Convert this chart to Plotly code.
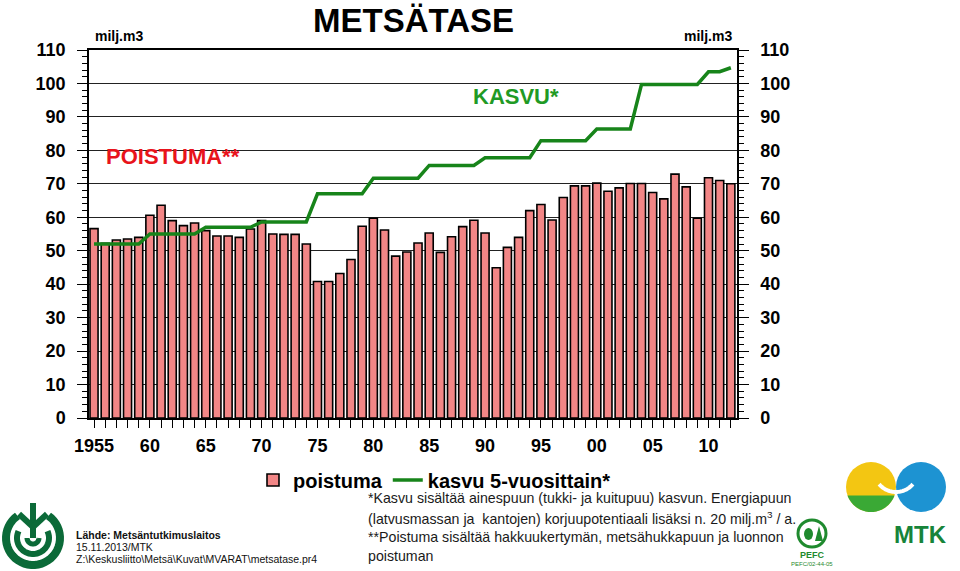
import numpy as np
import plotly.graph_objects as go

W, H = 960, 571

years = list(range(1955, 2013))
poistuma = [56.6, 52.2, 53.2, 53.5, 54.0, 60.6, 63.6, 59.0, 57.5, 58.3,
            56.0, 54.4, 54.4, 54.0, 56.5, 59.0, 55.0, 54.9, 54.9, 52.0,
            40.8, 40.8, 43.2, 47.4, 57.3, 59.7, 56.2, 48.4, 49.6, 52.3,
            55.3, 49.5, 54.2, 57.2, 59.1, 55.3, 44.9, 51.0, 54.0, 62.0,
            63.8, 59.2, 65.9, 69.4, 69.4, 70.2, 67.8, 68.8, 70.1, 70.1,
            67.4, 65.5, 72.9, 69.1, 59.7, 71.8, 71.0, 70.0]
kasvu = [52.0, 52.0, 52.0, 52.0, 52.0, 55.0, 55.0, 55.0, 55.0, 55.0,
         57.0, 57.0, 57.0, 57.0, 57.0, 58.6, 58.6, 58.6, 58.6, 58.6,
         67.0, 67.0, 67.0, 67.0, 67.0, 71.7, 71.7, 71.7, 71.7, 71.7,
         75.5, 75.5, 75.5, 75.5, 75.5, 77.8, 77.8, 77.8, 77.8, 77.8,
         82.9, 82.9, 82.9, 82.9, 82.9, 86.4, 86.4, 86.4, 86.4, 99.7,
         99.7, 99.7, 99.7, 99.7, 99.7, 103.5, 103.5, 104.7]
tick_years = [1955, 1960, 1965, 1970, 1975, 1980, 1985, 1990, 1995, 2000, 2005, 2010]
tick_text = ["1955", "60", "65", "70", "75", "80", "85", "90", "95", "00", "05", "10"]

FONT = "Liberation Sans, Arial, sans-serif"
NARROW = "Liberation Sans Narrow, Arial Narrow, Liberation Sans, Arial, sans-serif"
GREEN_LINE = "#17841a"
GREEN_TXT = "#1f9a25"
RED_TXT = "#e8131b"
LOGO_GREEN = "#0b6a38"


def px(x):
    return x / W


def py(y):
    return 1 - y / H


def ann(x, y, text, size, color="black", bold=False, anchor="left", family=FONT):
    return dict(x=px(x), y=py(y), xref="paper", yref="paper", text=text,
                showarrow=False, xanchor=anchor, yanchor="middle",
                font=dict(size=size, color=color, family=family,
                          weight="bold" if bold else "normal"))


def arc_path(cx, cy, r, a0, a1):
    t = np.radians(np.linspace(a0, a1, 40))
    pts = [(px(cx + r * np.cos(a)), py(cy + r * np.sin(a))) for a in t]
    return "M " + " L ".join(f"{x:.5f},{y:.5f}" for x, y in pts)


def seg(x0, y0, x1, y1, color, width):
    return dict(type="line", xref="paper", yref="paper", x0=px(x0), y0=py(y0),
                x1=px(x1), y1=py(y1), line=dict(color=color, width=width))


fig = go.Figure()
fig.add_trace(go.Bar(
    x=years, y=poistuma, name="poistuma", width=0.72,
    marker=dict(color="#f28686", line=dict(color="black", width=1.6)),
))
fig.add_trace(go.Scatter(
    x=years, y=kasvu, name="kasvu 5-vuosittain*", mode="lines", yaxis="y2",
    line=dict(color=GREEN_LINE, width=3.5),
))

dom_x = [px(89), px(737)]
dom_y = [py(418), py(50)]
yax = dict(
    range=[0, 110], domain=dom_y, tickvals=list(range(0, 111, 10)),
    ticks="outside", ticklen=10, tickcolor="black", showline=True,
    linecolor="black", linewidth=1.5, showgrid=True, gridcolor="#222",
    gridwidth=1, zeroline=False, automargin=False, ticklabelstandoff=8,
    tickfont=dict(size=18, family=FONT, weight="bold", color="black"),
    minor=dict(dtick=2, ticks="outside", ticklen=5, tickcolor="black"),
)
fig.update_layout(
    width=W, height=H, template="none",
    margin=dict(l=0, r=0, t=0, b=0),
    paper_bgcolor="white", plot_bgcolor="white",
    xaxis=dict(
        range=[1954.55, 2012.55], domain=dom_x, tickvals=tick_years,
        ticktext=tick_text, ticks="outside", ticklen=8, tickcolor="black",
        showline=True, linecolor="black", linewidth=1.5, mirror=True,
        showgrid=False, zeroline=False, automargin=False, ticklabelstandoff=3,
        tickfont=dict(size=18, family=FONT, weight="bold", color="black"),
        minor=dict(dtick=1, tick0=1955, ticks="outside", ticklen=8, tickcolor="black"),
    ),
    yaxis=yax,
    yaxis2=dict(yax, overlaying="y", side="right", anchor="x", showgrid=False),
    showlegend=True,
    legend=dict(
        orientation="h", x=px(253), y=py(480), xanchor="left", yanchor="middle",
        font=dict(size=20, family=FONT, weight="bold", color="black"),
        bgcolor="rgba(0,0,0,0)", itemwidth=30, tracegroupgap=0,
    ),
)

annotations = [
    ann(413, 20, "METSÄTASE", 33, bold=True, anchor="center", family=NARROW),
    ann(119, 36, "milj.m3", 14, bold=True, anchor="center", family=NARROW),
    ann(708, 36, "milj.m3", 14, bold=True, anchor="center", family=NARROW),
    ann(104, 157, "POISTUMA**", 22, RED_TXT, bold=True),
    ann(471, 96, "KASVU*", 22, GREEN_TXT, bold=True),
    ann(366, 498, "*Kasvu sisältää ainespuun (tukki- ja kuitupuu) kasvun. Energiapuun", 14.2, "#1a1a1a"),
    ann(366, 518, "(latvusmassan ja  kantojen) korjuupotentiaali lisäksi n. 20 milj.m<sup>3</sup> / a.", 14.2, "#1a1a1a"),
    ann(366, 537, "**Poistuma sisältää hakkuukertymän, metsähukkapuun ja luonnon", 14.2, "#1a1a1a"),
    ann(366, 556, "poistuman", 14.2, "#1a1a1a"),
    ann(74, 535, "Lähde: Metsäntutkimuslaitos", 10.5, "#111", bold=True),
    ann(74, 547, "15.11.2013/MTK", 10.5, "#111"),
    ann(74, 559, "Z:\\Keskusliitto\\Metsä\\Kuvat\\MVARAT\\metsatase.pr4", 10.5, "#111"),
    ann(920, 534, "MTK", 24, "#17843a", bold=True, anchor="center"),
    ann(812, 555, "PEFC", 9, "#1f8a2e", bold=True, anchor="center"),
    ann(812, 564, "PEFC/02-44-05", 6, "#1f8a2e", anchor="center"),
]

shapes = []
# left logo (Metsäntutkimuslaitos-style mark)
for r, a0, a1, w in [(27, -55, 235, 8), (16, -25, 205, 6), (6, 0, 180, 5)]:
    shapes.append(dict(type="path", xref="paper", yref="paper",
                       path=arc_path(33, 538, r, a0, a1),
                       line=dict(color=LOGO_GREEN, width=w)))
shapes.append(seg(33, 503, 33, 538, LOGO_GREEN, 6))
shapes.append(seg(19, 514, 33, 527, LOGO_GREEN, 6))
shapes.append(seg(47, 514, 33, 527, LOGO_GREEN, 6))

# MTK logo
shapes.append(dict(type="circle", xref="paper", yref="paper",
                   x0=px(846), x1=px(896), y0=py(512), y1=py(462),
                   fillcolor="#f3c612", line=dict(width=0)))
shapes.append(dict(type="path", xref="paper", yref="paper",
                   path=arc_path(871, 487, 25, 20, 160) + " Z",
                   fillcolor="#3aa935", line=dict(width=0)))
shapes.append(dict(type="circle", xref="paper", yref="paper",
                   x0=px(896), x1=px(946), y0=py(512), y1=py(462),
                   fillcolor="#1d93d2", line=dict(width=0)))
shapes.append(dict(type="path", xref="paper", yref="paper",
                   path=arc_path(896, 470, 22, 40, 140),
                   line=dict(color="white", width=4)))

# PEFC logo
shapes.append(dict(type="circle", xref="paper", yref="paper",
                   x0=px(798), x1=px(826), y0=py(547), y1=py(520),
                   line=dict(color="#1f8a2e", width=3)))
shapes.append(dict(type="circle", xref="paper", yref="paper",
                   x0=px(804), x1=px(813), y0=py(540), y1=py(528),
                   fillcolor="#1f8a2e", line=dict(width=0)))
shapes.append(dict(type="path", xref="paper", yref="paper",
                   path=f"M {px(815)},{py(541)} L {px(819)},{py(526)} L {px(823)},{py(541)} Z",
                   fillcolor="#1f8a2e", line=dict(width=0)))

fig.update_layout(annotations=annotations, shapes=shapes)

# the page body has a default 8px margin; remove it so the figure fills the window
fig.write_html("out.html", config={"displayModeBar": False},
               post_script="document.body.style.margin='0px';")
